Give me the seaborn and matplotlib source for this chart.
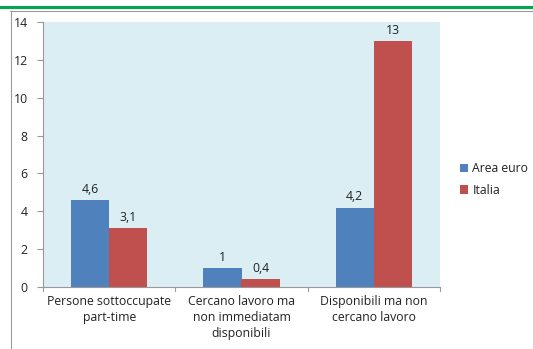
import matplotlib
matplotlib.use("Agg")
import matplotlib.pyplot as plt
from matplotlib.lines import Line2D
import seaborn as sns
import pandas as pd

categories = ["Persone sottoccupate\npart-time",
              "Cercano lavoro ma\nnon immediatam\ndisponibili",
              "Disponibili ma non\ncercano lavoro"]
area_euro = [4.6, 1.0, 4.2]
italia = [3.1, 0.4, 13.0]
series_names = ["Area euro", "Italia"]
y_ticks = [0, 2, 4, 6, 8, 10, 12, 14]

df = pd.DataFrame({
    "categoria": categories * 2,
    "serie": [series_names[0]] * 3 + [series_names[1]] * 3,
    "valore": area_euro + italia,
})

sns.set_theme(style="white")
plt.rcParams["font.family"] = ["Open Sans", "DejaVu Sans"]

W, H = 533, 349
fig = plt.figure(figsize=(W / 100, H / 100), dpi=100)
ax = fig.add_axes([43 / W, 1 - 287 / H, (440 - 43) / W, (287 - 22) / H])
ax.set_facecolor("#DBEEF3")

sns.barplot(data=df, x="categoria", y="valore", hue="serie",
            palette=["#4F81BD", "#C0504D"], width=0.575, ax=ax,
            saturation=1, legend=True, linewidth=0)

for cont in ax.containers:
    labels = [f"{v:g}".replace(".", ",") for v in cont.datavalues]
    ax.bar_label(cont, labels=labels, padding=3, fontsize=8.8, color="#222222")

ax.set_ylim(0, 14)
ax.set_xlim(-0.5, 2.5)
ax.set_yticks(y_ticks)
ax.set_yticklabels([str(t) for t in y_ticks], fontsize=8.8, color="#222222")
ax.set_xlabel("")
ax.set_ylabel("")
ax.set_xticks([0, 1, 2])
ax.set_xticklabels(categories, fontsize=8.8, color="#222222", linespacing=1.3)
ax.tick_params(axis="x", length=0, pad=6)
ax.tick_params(axis="y", left=True, length=4, color="#999999", width=0.8, pad=7)

for s in ["top", "right"]:
    ax.spines[s].set_visible(False)
for s in ["left", "bottom"]:
    ax.spines[s].set_color("#999999")
    ax.spines[s].set_linewidth(0.8)

# category boundary ticks on the x axis
for xb in [-0.5, 0.5, 1.5, 2.5]:
    ax.plot([xb, xb], [0, -0.2], color="#999999", lw=0.8, clip_on=False)

leg = ax.legend(loc="center left", bbox_to_anchor=(1.0, 0.405), frameon=False,
                fontsize=8.8, handlelength=0.7, handleheight=0.7,
                handletextpad=0.35, labelspacing=0.7, borderaxespad=1.2)
for t in leg.get_texts():
    t.set_color("#222222")

# page frame
fig.add_artist(Line2D([0, 1], [1 - 7 / H, 1 - 7 / H], color="#00A651", lw=2.2,
                      transform=fig.transFigure))
fig.add_artist(Line2D([10 / W, 1], [1 - 10.5 / H, 1 - 10.5 / H], color="#9a9a9a",
                      lw=0.8, transform=fig.transFigure))
fig.add_artist(Line2D([11 / W, 11 / W], [0, 1 - 10.5 / H], color="#9a9a9a",
                      lw=0.8, transform=fig.transFigure))

fig.savefig("out.png", dpi=100)
